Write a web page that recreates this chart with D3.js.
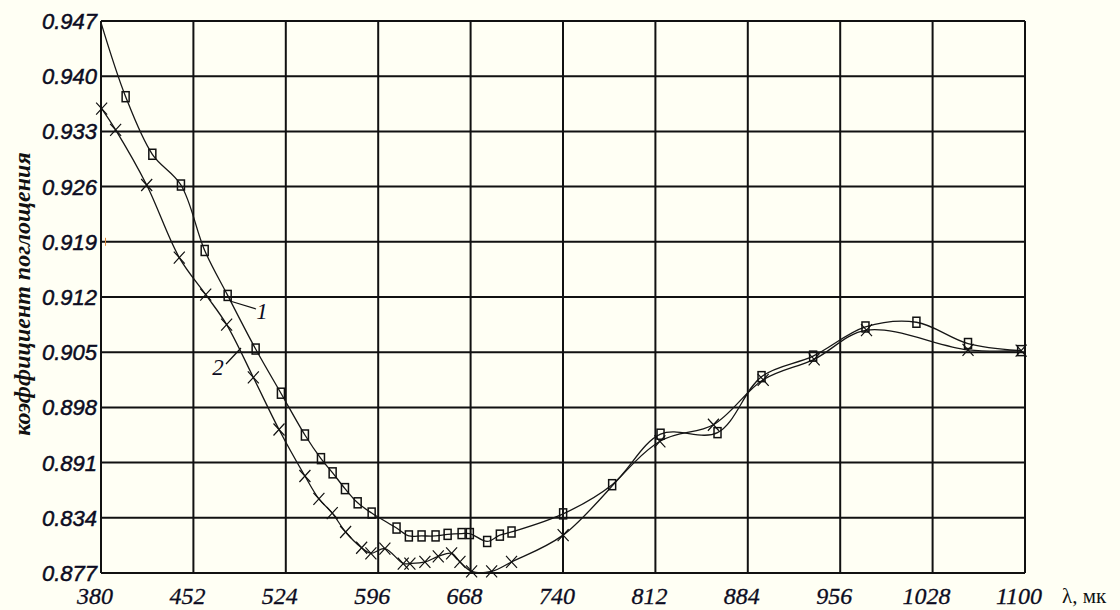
<!DOCTYPE html>
<html>
<head>
<meta charset="utf-8">
<script src="https://cdn.jsdelivr.net/npm/d3@7"></script>
<style>
  html, body { margin: 0; padding: 0; background: #fffff4; }
  svg { display: block; }
</style>
</head>
<body>
<script>
// ---- data ----
const xTicks = [380, 452, 524, 596, 668, 740, 812, 884, 956, 1028, 1100];
const yTickValues = [0.877, 0.884, 0.891, 0.898, 0.905, 0.912, 0.919, 0.926, 0.933, 0.940, 0.947];
const yTickLabels = ["0.877", "0.834", "0.891", "0.898", "0.905", "0.912", "0.919", "0.926", "0.933", "0.940", "0.947"];

// curve 1 (squares); first point is the curve start, no marker
const s1x = [380, 399.2, 420.0, 442.3, 460.8, 478.7, 500.5, 520.2, 538.9, 551.4, 560.5, 570.1, 580.0, 590.9,
  610.3, 619.9, 629.8, 640.7, 650.1, 661.0, 667.4, 680.9, 690.8, 699.9, 740.1, 778.3, 816.0, 860.4,
  894.7, 934.9, 975.7, 1015.4, 1055.6, 1097.0];
const s1y = [0.9468, 0.9374, 0.9301, 0.9262, 0.9179, 0.9122, 0.9054, 0.8998, 0.8945, 0.8915, 0.8897, 0.8877, 0.8859, 0.8846,
  0.8827, 0.8817, 0.8817, 0.8817, 0.8819, 0.8820, 0.8820, 0.8810, 0.8818, 0.8822, 0.8845, 0.8882, 0.8946, 0.8948,
  0.9019, 0.9045, 0.9082, 0.9088, 0.9061, 0.9052];

// curve 2 (crosses)
const s2x = [380.5, 391.4, 415.6, 441.0, 461.6, 477.9, 498.7, 518.7, 538.9, 549.8, 560.2, 570.6, 583.1, 590.3,
  601.2, 615.5, 620.7, 632.4, 642.8, 653.2, 659.7, 668.8, 684.4, 699.9, 740.1, 815.5, 857.2,
  896.0, 935.7, 976.5, 1055.6, 1097.0];
const s2y = [0.9359, 0.9332, 0.9262, 0.9170, 0.9123, 0.9085, 0.9018, 0.8952, 0.8893, 0.8864, 0.8846, 0.8822, 0.8802, 0.8795,
  0.8801, 0.8782, 0.8782, 0.8784, 0.8791, 0.8795, 0.8784, 0.8772, 0.8772, 0.8784, 0.8818, 0.8937, 0.8958,
  0.9015, 0.9041, 0.9078, 0.9053, 0.9052];

const xTitle = "λ, мк";
const yTitle = "коэффициент поглощения";

// ---- drawing ----
const W = 1120, H = 610;
const svg = d3.select("body").append("svg").attr("width", W).attr("height", H);
svg.append("rect").attr("width", W).attr("height", H).attr("fill", "#fffff4");

const x = d3.scaleLinear().domain([380, 1100]).range([101, 1025]);
const y = d3.scaleLinear().domain([0.877, 0.947]).range([573, 21]);

const ink = "#111";
const textInk = "#0c0c22";

// grid
const g = svg.append("g");
g.selectAll("line.v").data(xTicks).enter().append("line")
  .attr("x1", d => x(d)).attr("x2", d => x(d))
  .attr("y1", y(0.947)).attr("y2", y(0.877))
  .attr("stroke", ink).attr("stroke-width", 2);
g.selectAll("line.h").data(yTickValues).enter().append("line")
  .attr("x1", x(380)).attr("x2", x(1100))
  .attr("y1", d => y(d)).attr("y2", d => y(d))
  .attr("stroke", ink).attr("stroke-width", 2);

// y tick labels
svg.append("g").selectAll("text").data(yTickValues).enter().append("text")
  .attr("x", 97).attr("y", d => y(d))
  .attr("dy", "0.36em")
  .attr("text-anchor", "end")
  .attr("font-family", "Liberation Sans, Arial, sans-serif")
  .attr("font-style", "italic")
  .attr("font-size", 22)
  .attr("fill", textInk)
  .attr("stroke", textInk).attr("stroke-width", 0.5)
  .text((d, i) => yTickLabels[i]);

// small orange mark by 0.919
svg.append("line").attr("x1", 105.5).attr("x2", 105.5)
  .attr("y1", y(0.919) - 4).attr("y2", y(0.919) + 4)
  .attr("stroke", "#e08a3a").attr("stroke-width", 1);

// x tick labels
svg.append("g").selectAll("text").data(xTicks).enter().append("text")
  .attr("x", d => x(d) - 6).attr("y", 604)
  .attr("text-anchor", "middle")
  .attr("font-family", "Liberation Serif, Times New Roman, serif")
  .attr("font-style", "italic")
  .attr("font-size", 24)
  .attr("fill", textInk)
  .attr("stroke", textInk).attr("stroke-width", 0.3)
  .text(d => d);

// x title
svg.append("text").attr("x", 1062).attr("y", 603)
  .attr("font-family", "Liberation Serif, Times New Roman, serif")
  .attr("font-size", 21)
  .attr("fill", "#111")
  .text(xTitle);

// y title
svg.append("text")
  .attr("transform", "translate(30,294) rotate(-90)")
  .attr("text-anchor", "middle")
  .attr("font-family", "Liberation Serif, Times New Roman, serif")
  .attr("font-style", "italic")
  .attr("font-weight", "bold")
  .attr("font-size", 24)
  .attr("fill", "#111")
  .text(yTitle);

// curves
const s1 = s1x.map((v, i) => [v, s1y[i]]);
const s2 = s2x.map((v, i) => [v, s2y[i]]);
const line = d3.line().x(d => x(d[0])).y(d => y(d[1])).curve(d3.curveCatmullRom.alpha(0.5));

svg.append("path").attr("d", line(s1)).attr("fill", "none").attr("stroke", "#161616").attr("stroke-width", 1.3);
svg.append("path").attr("d", line(s2)).attr("fill", "none").attr("stroke", "#161616").attr("stroke-width", 1.3);

// square markers (skip curve start)
svg.append("g").selectAll("rect").data(s1.slice(1)).enter().append("rect")
  .attr("x", d => x(d[0]) - 3.5).attr("y", d => y(d[1]) - 5)
  .attr("width", 7).attr("height", 10)
  .attr("fill", "none").attr("stroke", "#111").attr("stroke-width", 1.5);

// cross markers
svg.append("g").selectAll("path").data(s2).enter().append("path")
  .attr("transform", d => `translate(${x(d[0])},${y(d[1])})`)
  .attr("d", "M-5.5,-6L5.5,6M-5.5,6L5.5,-6")
  .attr("fill", "none").attr("stroke", "#111").attr("stroke-width", 1.2);

// curve labels with leader lines
const lab = svg.append("g")
  .attr("font-family", "Liberation Serif, Times New Roman, serif")
  .attr("font-style", "italic")
  .attr("font-size", 23)
  .attr("fill", textInk);
lab.append("line").attr("x1", 230).attr("y1", 301).attr("x2", 256).attr("y2", 309)
  .attr("stroke", "#111").attr("stroke-width", 1.2);
lab.append("text").attr("x", 262).attr("y", 319).attr("text-anchor", "middle").text("1");
lab.append("line").attr("x1", 241).attr("y1", 348).attr("x2", 226).attr("y2", 364)
  .attr("stroke", "#111").attr("stroke-width", 1.2);
lab.append("text").attr("x", 218).attr("y", 375).attr("text-anchor", "middle").text("2");
</script>
</body>
</html>
